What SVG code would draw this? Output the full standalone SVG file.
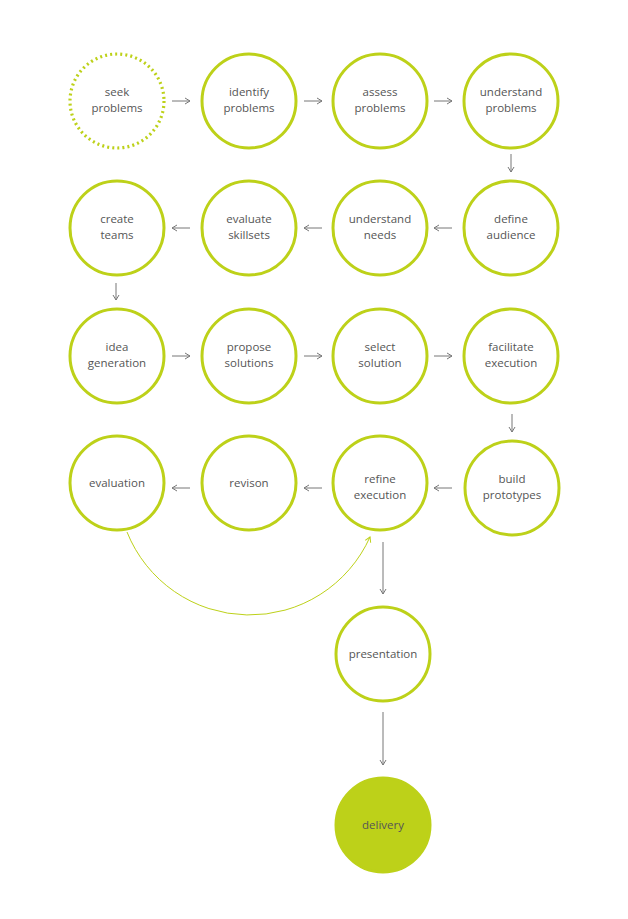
<svg xmlns="http://www.w3.org/2000/svg" width="628" height="919" viewBox="0 0 628 919">
<style>
.n{fill:#fff;stroke:#bdd119;stroke-width:3}
.d{stroke-dasharray:2 3.1;stroke-width:3.2}
.f{fill:#bdd119;stroke:#bdd119;stroke-width:3}
text{font-family:"Open Sans","Liberation Sans",sans-serif;font-size:11.5px;fill:#555;text-anchor:middle}
.c line{stroke:#777;stroke-width:1}
</style>
<defs>
<marker id="a" markerWidth="8" markerHeight="8" refX="6" refY="4" orient="auto" markerUnits="userSpaceOnUse"><path d="M1,1 L6,4 L1,7" fill="none" stroke="#777" stroke-width="1"/></marker>
<marker id="g" markerWidth="10" markerHeight="10" refX="6" refY="4" orient="auto" markerUnits="userSpaceOnUse"><path d="M1,1 L6,4 L1,7" fill="none" stroke="#bdd119" stroke-width="1"/></marker>
</defs>
<g class="c" id="connectors">
<line x1="172" y1="101" x2="190" y2="101" marker-end="url(#a)"/>
<line x1="304" y1="101" x2="322" y2="101" marker-end="url(#a)"/>
<line x1="434" y1="101" x2="452" y2="101" marker-end="url(#a)"/>
<line x1="511" y1="154" x2="511" y2="172" marker-end="url(#a)"/>
<line x1="452" y1="228" x2="434" y2="228" marker-end="url(#a)"/>
<line x1="322" y1="228" x2="304" y2="228" marker-end="url(#a)"/>
<line x1="190" y1="228" x2="172" y2="228" marker-end="url(#a)"/>
<line x1="116" y1="283" x2="116" y2="300" marker-end="url(#a)"/>
<line x1="172" y1="356" x2="190" y2="356" marker-end="url(#a)"/>
<line x1="304" y1="356" x2="322" y2="356" marker-end="url(#a)"/>
<line x1="434" y1="356" x2="452" y2="356" marker-end="url(#a)"/>
<line x1="512" y1="414" x2="512" y2="432" marker-end="url(#a)"/>
<line x1="452" y1="488" x2="434" y2="488" marker-end="url(#a)"/>
<line x1="322" y1="488" x2="304" y2="488" marker-end="url(#a)"/>
<line x1="190" y1="488" x2="172" y2="488" marker-end="url(#a)"/>
<line x1="383" y1="542" x2="383" y2="594" marker-end="url(#a)"/>
<line x1="383" y1="712" x2="383" y2="765" marker-end="url(#a)"/>
<path d="M127,532 A132,132 0 0 0 370,537" fill="none" stroke="#bdd119" stroke-width="1" marker-end="url(#g)"/>
</g>
<g id="seek"><circle class="n d" cx="117" cy="101" r="47"/><text x="117" y="96">seek</text><text x="117" y="112">problems</text></g>
<g id="identify"><circle class="n" cx="249" cy="101" r="47"/><text x="249" y="96">identify</text><text x="249" y="112">problems</text></g>
<g id="assess"><circle class="n" cx="380" cy="101" r="47"/><text x="380" y="96">assess</text><text x="380" y="112">problems</text></g>
<g id="understandp"><circle class="n" cx="511" cy="101" r="47"/><text x="511" y="96">understand</text><text x="511" y="112">problems</text></g>
<g id="define"><circle class="n" cx="511" cy="228" r="47"/><text x="511" y="223">define</text><text x="511" y="239">audience</text></g>
<g id="needs"><circle class="n" cx="380" cy="228" r="47"/><text x="380" y="223">understand</text><text x="380" y="239">needs</text></g>
<g id="skills"><circle class="n" cx="249" cy="228" r="47"/><text x="249" y="223">evaluate</text><text x="249" y="239">skillsets</text></g>
<g id="teams"><circle class="n" cx="117" cy="228" r="47"/><text x="117" y="223">create</text><text x="117" y="239">teams</text></g>
<g id="idea"><circle class="n" cx="117" cy="356" r="47"/><text x="117" y="351">idea</text><text x="117" y="367">generation</text></g>
<g id="propose"><circle class="n" cx="249" cy="356" r="47"/><text x="249" y="351">propose</text><text x="249" y="367">solutions</text></g>
<g id="select"><circle class="n" cx="380" cy="356" r="47"/><text x="380" y="351">select</text><text x="380" y="367">solution</text></g>
<g id="facilitate"><circle class="n" cx="511" cy="356" r="47"/><text x="511" y="351">facilitate</text><text x="511" y="367">execution</text></g>
<g id="build"><circle class="n" cx="512" cy="488" r="47"/><text x="512" y="483">build</text><text x="512" y="499">prototypes</text></g>
<g id="refine"><circle class="n" cx="380" cy="483" r="47"/><text x="380" y="483">refine</text><text x="380" y="499">execution</text></g>
<g id="revison"><circle class="n" cx="249" cy="483" r="47"/><text x="249" y="487">revison</text></g>
<g id="evaluation"><circle class="n" cx="117" cy="483" r="47"/><text x="117" y="487">evaluation</text></g>
<g id="presentation"><circle class="n" cx="383" cy="654" r="47"/><text x="383" y="658">presentation</text></g>
<g id="delivery"><circle class="f" cx="383" cy="825" r="47"/><text x="383" y="829">delivery</text></g>
</svg>
